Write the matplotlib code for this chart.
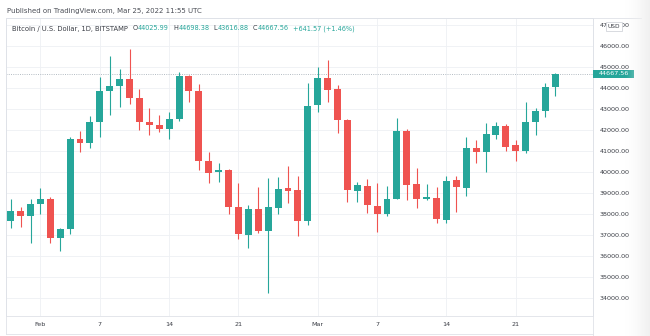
import matplotlib
matplotlib.use("Agg")
import matplotlib.pyplot as plt
from matplotlib.lines import Line2D
from matplotlib.patches import Rectangle
import numpy as np

# daily BTC/USD candles, Jan 29 .. Mar 25 2022
opens = [37680, 38160, 37920, 38470, 38710, 36880, 37280, 41560, 41390, 42390,
         43850, 44090, 44420, 43500, 42390, 42220, 42060, 42500, 44570, 43860,
         40520, 39990, 40100, 38350, 37010, 38230, 37200, 38310, 39230, 39150,
         37670, 43180, 44450, 43930, 42470, 39110, 39350, 38390, 37990, 38720,
         41950, 39410, 38700, 38750, 37720, 39620, 39260, 41130, 40940, 41760,
         42200, 41280, 41000, 42360, 42910, 44025.99]
highs = [38710, 38350, 38730, 39240, 38830, 37330, 41680, 41960, 42660, 44500,
         45510, 44880, 45830, 43930, 43030, 42710, 42870, 44740, 44600, 44180,
         40960, 40410, 40120, 39460, 38430, 39300, 39730, 39750, 40280, 39830,
         44210, 45000, 45320, 44130, 42520, 39540, 39650, 39490, 39350, 42550,
         42040, 40210, 39410, 39300, 39830, 39830, 41680, 41520, 42310, 42390,
         42300, 41520, 43340, 43030, 44240, 44698.38]
lows = [37320, 37370, 36620, 38010, 36610, 36260, 37050, 40960, 41120, 41680,
        42710, 43100, 43230, 42000, 41760, 41910, 41570, 42430, 43340, 40100,
        39460, 39540, 38010, 36800, 36370, 37090, 34240, 38010, 38540, 36960,
        37500, 42870, 43340, 41840, 38590, 38590, 38070, 37170, 37900, 38700,
        38660, 38280, 38670, 37600, 37570, 38080, 38860, 40410, 40000, 41550,
        41000, 40540, 40920, 41760, 42630, 43616.88]
closes = [38160, 37920, 38470, 38710, 36880, 37280, 41560, 41390, 42390, 43850,
          44090, 44420, 43500, 42390, 42220, 42060, 42500, 44570, 43860, 40520,
          39970, 40100, 38350, 37040, 38230, 37200, 38350, 39190, 39110, 37670,
          43140, 44450, 43900, 42470, 39150, 39380, 38430, 37990, 38720, 41950,
          39380, 38700, 38800, 37760, 39590, 39300, 41130, 40940, 41790, 42200,
          41200, 41010, 42360, 42910, 44020, 44667.56]

# candle index of each date label
date_idx = [3, 9, 16, 23, 31, 37, 44, 51]
date_labels = ["Feb", "7", "14", "21", "Mar", "7", "14", "21"]

price_ticks = list(range(34000, 48000, 1000))

legend_title = "Bitcoin / U.S. Dollar, 1D, BITSTAMP"
ohlc_keys = ["O", "H", "L", "C"]
change_text = "+641.57 (+1.46%)"

UP = "#26a69a"
DOWN = "#ef5350"
GRID = "#eef0f4"
BORDER = "#dfe2e8"
TXT = "#3a3d45"

W, H = 650, 336
fig = plt.figure(figsize=(W / 100, H / 100), dpi=100)
fig.patch.set_facecolor("white")


def fx(px):
    return px / W


def fy(py):
    return 1 - py / H


ax = fig.add_axes([fx(6), fy(316), fx(593) - fx(6), fy(18) - fy(316)])
ax.set_xlim(-0.475, 58.8)
ax.set_ylim(33159, 47316)

x = np.arange(len(opens))
o = np.array(opens)
c = np.array(closes)
colors = [UP if cc >= oo else DOWN for oo, cc in zip(o, c)]
body_lo = np.minimum(o, c)
body_h = np.maximum(np.abs(c - o), 45)  # keep dojis visible

ax.vlines(x, lows, highs, colors=colors, lw=0.8, zorder=3)
ax.bar(x, body_h, bottom=body_lo, width=0.7, color=colors, zorder=4)

# last price line
ax.axhline(closes[-1], color="#aab3bb", lw=0.6, ls=(0, (1.2, 1.5)), zorder=2)

ax.set_yticks(price_ticks)
ax.set_yticklabels(["%.2f" % t for t in price_ticks])
ax.yaxis.tick_right()
ax.set_xticks(date_idx)
ax.set_xticklabels(date_labels)
ax.tick_params(axis="y", length=0, pad=5, labelsize=4.6, colors=TXT)
ax.tick_params(axis="x", length=0, pad=4.5, labelsize=4.6, colors=TXT)
ax.grid(True, color=GRID, lw=0.6, zorder=0)
for s in ax.spines.values():
    s.set_color(BORDER)
    s.set_linewidth(0.6)

# pane borders around the price and time scales
fig.add_artist(Line2D([fx(6), fx(641)], [fy(18), fy(18)], color=BORDER, lw=0.6))
fig.add_artist(Line2D([fx(6), fx(593)], [fy(334), fy(334)], color=BORDER, lw=0.6))
fig.add_artist(Line2D([fx(593), fx(593)], [fy(18), fy(336)], color=BORDER, lw=0.6))
fig.add_artist(Line2D([fx(6), fx(6)], [fy(18), fy(334)], color=BORDER, lw=0.6))

# last price badge on the scale
fig.add_artist(Rectangle((fx(593), fy(78)), fx(634) - fx(593), fy(69.5) - fy(78),
                         facecolor=UP, edgecolor="none", zorder=10))
fig.text(fx(614), fy(73.8), "%.2f" % closes[-1], color="white", fontsize=4.6,
         ha="center", va="center", zorder=11)

# currency box sitting on top of the scale
fig.add_artist(Rectangle((fx(605.5), fy(31)), fx(621.5) - fx(605.5), fy(22) - fy(31),
                         facecolor="white", edgecolor="#c9ccd3", lw=0.5, zorder=10))
fig.text(fx(613.5), fy(26.8), "USD", color=TXT, fontsize=4.2,
         ha="center", va="center", zorder=11)

# header
fig.text(fx(7), fy(10.5), "Published on TradingView.com, Mar 25, 2022 11:55 UTC",
         color="#4b4e56", fontsize=5.0, ha="left", va="center")

# OHLC legend line, each piece placed right after the previous one
title_art = fig.text(fx(12.5), fy(30.5), legend_title, color=TXT, fontsize=4.9,
                     ha="left", va="baseline")
ohlc_vals = [opens[-1], highs[-1], lows[-1], closes[-1]]
pieces = []
for k, v in zip(ohlc_keys, ohlc_vals):
    pieces.append((k, TXT, 3.2))
    pieces.append(("%.2f" % v, UP, 0.0))
pieces.append((change_text, UP, 3.2))

fig.canvas.draw()
renderer = fig.canvas.get_renderer()
right_px = title_art.get_window_extent(renderer).x1
for s, col, gap in pieces:
    right_px += gap * 100 / 72
    t = fig.text(right_px / W, fy(30.5), s, color=col, fontsize=4.7,
                 ha="left", va="baseline")
    right_px = t.get_window_extent(renderer).x1

# soft fade on the right edge
fade = np.linspace(0, 1, 64) ** 1.5
rgba = np.zeros((1, 64, 4))
rgba[..., :3] = 0.945
rgba[..., 3] = fade
fax = fig.add_axes([fx(624), 0, fx(650) - fx(624), 1], zorder=20)
fax.imshow(rgba, aspect="auto", extent=(0, 1, 0, 1))
fax.axis("off")

fig.savefig("out.png", dpi=100, facecolor="white")
